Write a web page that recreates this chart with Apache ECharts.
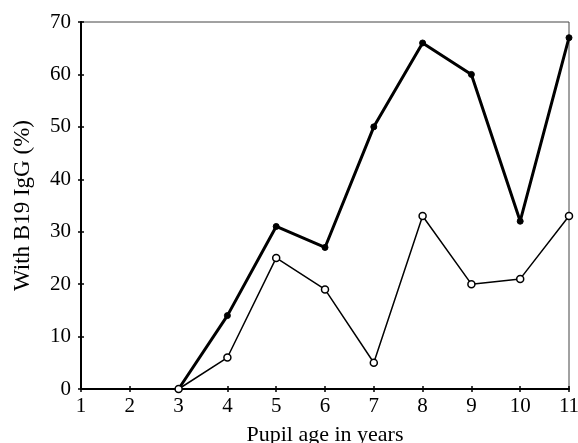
<!DOCTYPE html>
<html>
<head>
<meta charset="utf-8">
<script src="https://cdn.jsdelivr.net/npm/echarts@6/dist/echarts.min.js"></script>
<style>
html, body { margin: 0; padding: 0; background: #fff; }
#chart { width: 578px; height: 443px; }
</style>
</head>
<body>
<div id="chart"></div>
<script>
var ages = [3, 4, 5, 6, 7, 8, 9, 10, 11];
var filledVals = [0, 14, 31, 27, 50, 66, 60, 32, 67];
var openVals = [0, 6, 25, 19, 5, 33, 20, 21, 33];

function pairs(vals) {
    return ages.map(function (a, i) { return [a, vals[i]]; });
}

var font = '"Liberation Serif", "Times New Roman", serif';
var myChart = echarts.init(document.getElementById('chart'));

var option = {
    backgroundColor: '#fff',
    animation: false,
    grid: {
        left: 81,
        right: 9,
        top: 22,
        bottom: 54,
        containLabel: false,
        outerBoundsMode: 'none',
        show: true,
        borderColor: '#444',
        borderWidth: 1
    },
    xAxis: [{
        type: 'value',
        min: 1,
        max: 11,
        interval: 1,
        name: 'Pupil age in years',
        nameLocation: 'middle',
        nameGap: 35,
        nameTextStyle: { fontFamily: font, fontSize: 22, color: '#000' },
        axisLine: { lineStyle: { color: '#000', width: 2 } },
        axisTick: { show: true, inside: false, length: 3, lineStyle: { color: '#000', width: 1.5 } },
        axisLabel: { fontFamily: font, fontSize: 21, color: '#000', margin: 7 },
        splitLine: { show: false }
    }, {
        type: 'value',
        position: 'bottom',
        min: 1,
        max: 11,
        interval: 1,
        axisLine: { show: false },
        axisTick: { show: true, inside: true, length: 3, lineStyle: { color: '#000', width: 1.5 } },
        axisLabel: { show: false },
        splitLine: { show: false }
    }],
    yAxis: [{
        type: 'value',
        min: 0,
        max: 70,
        interval: 10,
        name: 'With B19 IgG (%)',
        nameLocation: 'middle',
        nameGap: 47,
        nameTextStyle: { fontFamily: font, fontSize: 23, color: '#000' },
        axisLine: { show: true, lineStyle: { color: '#000', width: 2 } },
        axisTick: { show: true, inside: false, length: 3, lineStyle: { color: '#000', width: 1.5 } },
        axisLabel: { fontFamily: font, fontSize: 21, color: '#000', margin: 10 },
        splitLine: { show: false }
    }, {
        type: 'value',
        position: 'left',
        min: 0,
        max: 70,
        interval: 10,
        axisLine: { show: false },
        axisTick: { show: true, inside: true, length: 3, lineStyle: { color: '#000', width: 1.5 } },
        axisLabel: { show: false },
        splitLine: { show: false }
    }],
    series: [{
        name: 'filled',
        type: 'line',
        data: pairs(filledVals),
        symbol: 'circle',
        symbolSize: 6,
        lineStyle: { color: '#000', width: 3 },
        itemStyle: { color: '#000', borderColor: '#000', borderWidth: 1 },
        z: 3
    }, {
        name: 'open',
        type: 'line',
        data: pairs(openVals),
        symbol: 'circle',
        symbolSize: 7,
        lineStyle: { color: '#000', width: 1.5 },
        itemStyle: { color: '#fff', borderColor: '#000', borderWidth: 1.5 },
        z: 4
    }]
};
myChart.setOption(option);
</script>
</body>
</html>
